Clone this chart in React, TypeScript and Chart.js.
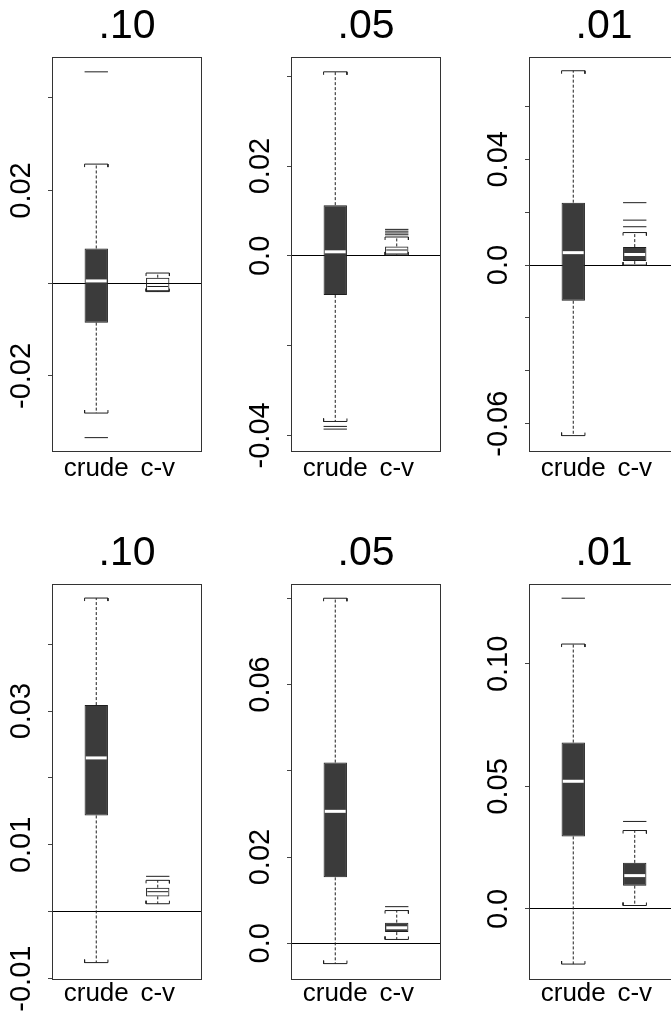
import React, { useEffect, useRef } from 'react';
import { Chart, registerables } from 'chart.js';

Chart.register(...registerables);

// ---------------- data ----------------
const PANEL_TITLES = ['.10', '.05', '.01', '.10', '.05', '.01'];
const CATEGORIES = ['crude', 'c-v'];

const CRUDE_LOW = [-0.028, -0.0369, -0.0645, -0.0076, -0.0047, -0.0225];
const CRUDE_Q1 = [-0.0085, -0.0087, -0.0135, 0.0144, 0.0153, 0.0296];
const CRUDE_MED = [0.0005, 0.0009, 0.0047, 0.023, 0.0306, 0.0521];
const CRUDE_Q3 = [0.0075, 0.0113, 0.0236, 0.0309, 0.0419, 0.0679];
const CRUDE_HIGH = [0.0257, 0.041, 0.0735, 0.0469, 0.08, 0.1081];
const CRUDE_OUTLIERS = [[0.0456, -0.0333], [-0.038, -0.0386], [], [], [], [0.1268]];

const CV_LOW = [-0.0018, 0.0002, 0.0, 0.0012, 0.0009, 0.0014];
const CV_Q1 = [-0.0017, 0.0003, 0.0015, 0.0023, 0.0026, 0.0095];
const CV_MED = [-0.0007, 0.0013, 0.004, 0.003, 0.0036, 0.0136];
const CV_Q3 = [0.0012, 0.0021, 0.0068, 0.0036, 0.0048, 0.0188];
const CV_HIGH = [0.0022, 0.0042, 0.0123, 0.0047, 0.0076, 0.032];
const CV_OUTLIERS = [[], [0.0047, 0.0051, 0.0055, 0.0059], [0.0145, 0.017, 0.0236], [0.0053], [0.0085], [0.0357]];
const CV_FILLED = [false, false, true, false, true, true];

const Y_MIN = [-0.0364, -0.0437, -0.0707, -0.0102, -0.0085, -0.029];
const Y_MAX = [0.0488, 0.0443, 0.0787, 0.049, 0.0833, 0.1326];
const Y_TICKS = [
  [-0.02, 0, 0.02, 0.04],
  [-0.04, -0.02, 0, 0.02, 0.04],
  [-0.06, -0.04, -0.02, 0, 0.02, 0.04, 0.06],
  [-0.01, 0, 0.01, 0.02, 0.03, 0.04],
  [0, 0.02, 0.04, 0.06, 0.08],
  [0, 0.05, 0.1],
];
const Y_TICK_LABELS = [
  ['-0.02', '', '0.02', ''],
  ['-0.04', '', '0.0', '0.02', ''],
  ['-0.06', '', '', '0.0', '', '0.04', ''],
  ['-0.01', '', '0.01', '', '0.03', ''],
  ['0.0', '0.02', '', '0.06', ''],
  ['0.0', '0.05', '0.10'],
];

// ---------------- layout / style ----------------
const X_MIN = 0.28;
const X_MAX = 2.72;
const BOX_HALF = 0.19;
const MED_HALF = 0.17;
const FRAME_LEFTS = [52, 291, 529];
const FRAME_W = 150;
const AXIS_W = 52;
const PAD_R = 4;
const ROW_TOP = [0, 500];
const ROW_H = [500, 511];
const ROW_PAD_TOP = [0, 27];
const ROW_FRAME_TOP = [57, 84];
const ROW_FRAME_BOTTOM = [452, 480];
const ROW_XPAD = [1, -2];
const TICK_LEN = 4;
const Y_LABEL_OFFSET = 30;
const DARK = '#3b3b3b';
const INK = '#1e1e1e';
const SANS = '"Liberation Sans", Arial, Helvetica, sans-serif';
const Y_FONT = 29;
const X_FONT = 26;
const TITLE_FONT = 41;

const framePlugin = {
  id: 'frame',
  afterDraw(chart: any) {
    const { ctx, chartArea: a } = chart;
    ctx.save();
    ctx.strokeStyle = '#333';
    ctx.lineWidth = 1;
    ctx.strokeRect(Math.round(a.left) + 0.5, Math.round(a.top) + 0.5, Math.round(a.right - a.left) - 1, Math.round(a.bottom - a.top) - 1);
    ctx.restore();
  },
};

function Panel({ idx }: { idx: number }) {
  const ref = useRef<HTMLCanvasElement | null>(null);
  const col = idx % 3;
  const row = Math.floor(idx / 3);
  const canvasLeft = FRAME_LEFTS[col] - AXIS_W;
  const canvasTop = ROW_TOP[row];
  const canvasH = ROW_H[row];
  const canvasW = AXIS_W + FRAME_W + PAD_R;

  useEffect(() => {
    const canvas = ref.current;
    if (!canvas) return;

    const ymin = Y_MIN[idx];
    const ymax = Y_MAX[idx];
    const plotH = ROW_FRAME_BOTTOM[row] - ROW_FRAME_TOP[row];
    const capTick = 3 / (plotH / (ymax - ymin));

    const boxes = [
      { c: 1, lo: CRUDE_LOW[idx], q1: CRUDE_Q1[idx], med: CRUDE_MED[idx], q3: CRUDE_Q3[idx], hi: CRUDE_HIGH[idx], out: CRUDE_OUTLIERS[idx], filled: true },
      { c: 2, lo: CV_LOW[idx], q1: CV_Q1[idx], med: CV_MED[idx], q3: CV_Q3[idx], hi: CV_HIGH[idx], out: CV_OUTLIERS[idx], filled: CV_FILLED[idx] },
    ];

    const whiskers: any[] = [];
    const caps: any[] = [];
    const outliers: any[] = [];
    boxes.forEach((b) => {
      whiskers.push({ x: b.c, y: b.q3 }, { x: b.c, y: b.hi }, { x: b.c, y: null });
      whiskers.push({ x: b.c, y: b.q1 }, { x: b.c, y: b.lo }, { x: b.c, y: null });
      caps.push(
        { x: b.c - BOX_HALF, y: b.hi - capTick }, { x: b.c - BOX_HALF, y: b.hi },
        { x: b.c + BOX_HALF, y: b.hi }, { x: b.c + BOX_HALF, y: b.hi - capTick }, { x: b.c, y: null },
        { x: b.c - BOX_HALF, y: b.lo + capTick }, { x: b.c - BOX_HALF, y: b.lo },
        { x: b.c + BOX_HALF, y: b.lo }, { x: b.c + BOX_HALF, y: b.lo + capTick }, { x: b.c, y: null },
      );
      b.out.forEach((o: number) => {
        outliers.push({ x: b.c - BOX_HALF, y: o }, { x: b.c + BOX_HALF, y: o }, { x: b.c, y: null });
      });
    });

    const lineBase = { type: 'line', pointRadius: 0, pointHoverRadius: 0, fill: false, spanGaps: false, tension: 0, borderWidth: 1, borderColor: INK };

    const medianSet = (b: any) => ({
      ...lineBase,
      order: 1,
      data: [{ x: b.c - MED_HALF, y: b.med }, { x: b.c + MED_HALF, y: b.med }],
      borderColor: b.filled ? '#ffffff' : INK,
      borderWidth: b.filled ? 3 : 1,
    });

    // measure widest y label to centre rotated labels at a fixed distance from the frame
    const mctx = document.createElement('canvas').getContext('2d')!;
    mctx.font = `${Y_FONT}px ${SANS}`;
    let widest = 0;
    Y_TICK_LABELS[idx].forEach((l) => { widest = Math.max(widest, mctx.measureText(l).width); });
    const yPad = Y_LABEL_OFFSET - TICK_LEN - widest / 2;

    const chart = new Chart(canvas, {
      type: 'bar',
      data: {
        datasets: [
          {
            type: 'bar',
            order: 3,
            data: boxes.map((b) => ({ x: b.c, y: [b.q1, b.q3] })),
            backgroundColor: boxes.map((b) => (b.filled ? DARK : 'rgba(255,255,255,0)')),
            borderColor: INK,
            borderWidth: 1,
            borderSkipped: false,
            categoryPercentage: 1,
            barPercentage: 0.38,
          } as any,
          { ...lineBase, order: 2, data: whiskers, borderDash: [3, 2] } as any,
          { ...lineBase, order: 2, data: caps } as any,
          { ...lineBase, order: 2, data: outliers } as any,
          medianSet(boxes[0]) as any,
          medianSet(boxes[1]) as any,
        ],
      },
      options: {
        animation: false,
        responsive: false,
        devicePixelRatio: 1,
        layout: { padding: { top: ROW_PAD_TOP[row], right: PAD_R, bottom: 0, left: 0 } },
        plugins: {
          legend: { display: false },
          tooltip: { enabled: false },
          title: {
            display: true,
            text: PANEL_TITLES[idx],
            fullSize: false,
            color: '#000',
            font: { size: TITLE_FONT, family: SANS, weight: 'normal', lineHeight: 1 },
            padding: { top: 6, bottom: 10 },
          },
        },
        scales: {
          x: {
            type: 'linear',
            min: X_MIN,
            max: X_MAX,
            offset: false,
            grid: { display: false, drawTicks: false, tickLength: 0 },
            border: { display: false },
            afterBuildTicks: (scale: any) => { scale.ticks = CATEGORIES.map((_, i) => ({ value: i + 1 })); },
            afterFit: (scale: any) => { scale.height = canvasH - ROW_FRAME_BOTTOM[row]; },
            ticks: {
              autoSkip: false,
              maxRotation: 0,
              minRotation: 0,
              padding: ROW_XPAD[row],
              color: '#000',
              font: { size: X_FONT, family: SANS },
              callback: (v: any) => CATEGORIES[Math.round(Number(v)) - 1] ?? '',
            },
          },
          y: {
            type: 'linear',
            min: ymin,
            max: ymax,
            beginAtZero: false,
            grace: 0,
            afterBuildTicks: (scale: any) => { scale.ticks = Y_TICKS[idx].map((v) => ({ value: v })); },
            afterFit: (scale: any) => { scale.width = AXIS_W; },
            grid: {
              display: true,
              drawOnChartArea: true,
              drawTicks: true,
              tickLength: TICK_LEN,
              tickColor: '#444',
              lineWidth: 1,
              color: (ctx: any) => (ctx.tick && Math.abs(ctx.tick.value) < 1e-9 ? '#000' : 'rgba(0,0,0,0)'),
            },
            border: { display: false },
            ticks: {
              autoSkip: false,
              minRotation: 90,
              maxRotation: 90,
              crossAlign: 'center',
              padding: yPad,
              color: '#000',
              font: { size: Y_FONT, family: SANS },
              callback: (v: any) => {
                const k = Y_TICKS[idx].findIndex((t) => Math.abs(t - Number(v)) < 1e-9);
                return k >= 0 ? Y_TICK_LABELS[idx][k] : '';
              },
            },
          },
        },
      } as any,
      plugins: [framePlugin],
    });
    return () => chart.destroy();
  }, [idx]);

  return (
    <canvas
      ref={ref}
      width={canvasW}
      height={canvasH}
      style={{ position: 'absolute', left: canvasLeft, top: canvasTop, width: canvasW, height: canvasH }}
    />
  );
}

export default function App() {
  return (
    <div style={{ position: 'fixed', left: 0, top: 0, width: 671, height: 1011, overflow: 'hidden', background: '#fff' }}>
      {PANEL_TITLES.map((_, i) => (
        <Panel key={i} idx={i} />
      ))}
    </div>
  );
}
